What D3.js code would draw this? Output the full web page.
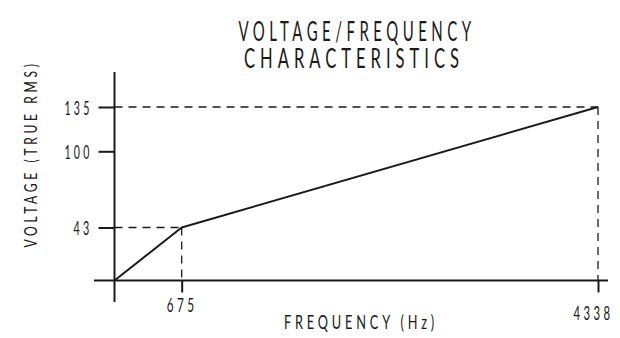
<!DOCTYPE html>
<html><head><meta charset="utf-8">
<script src="https://cdn.jsdelivr.net/npm/d3@7"></script>
<style>body{margin:0;background:#fff}svg{display:block}</style>
</head><body>
<svg id="c" width="620" height="338"></svg>
<script>
// ---- data ----
const titleLines = ["VOLTAGE/FREQUENCY", "CHARACTERISTICS"];
const xLabel = "FREQUENCY (Hz)";
const yLabel = "VOLTAGE (TRUE RMS)";
const frequency = [0, 675, 4338];
const voltage = [0, 43, 135];
const xTickValues = [675, 4338];
const yTickValues = [43, 100, 135];
const guidePoints = [[675, 43], [4338, 135]];

// ---- layout ----
const svg = d3.select("#c");
const FONT = "Lato, 'Liberation Sans Narrow', 'DejaVu Sans', sans-serif";
const INK = "#1a1a1a";
const x = d3.scaleLinear().domain(frequency).range([114.5, 181.7, 598]);
const y = d3.scaleLinear().domain([0, 43, 100, 135]).range([280.5, 227.5, 151.3, 107]);

function sketchText(sel, size, len, spacing) {
  sel.attr("font-family", FONT).attr("font-size", size).attr("font-weight", 400)
     .attr("fill", INK).style("letter-spacing", (size * (spacing == null ? 0.3 : spacing)) + "px")
     .attr("textLength", len).attr("lengthAdjust", "spacingAndGlyphs");
  return sel;
}

// title
const titleY = [40.5, 67.5];
const titleX = [357, 354];
const titleLen = [237, 220];
titleLines.forEach((t, i) => {
  sketchText(svg.append("text").attr("x", titleX[i]).attr("y", titleY[i])
    .attr("text-anchor", "middle").text(t), 26, titleLen[i]);
});

// dashed guides
const guides = svg.append("g").attr("stroke", INK).attr("stroke-width", 1.3)
  .attr("stroke-dasharray", "8,6").attr("fill", "none");
guidePoints.forEach(([f, v]) => {
  guides.append("line").attr("x1", x(0)).attr("x2", x(f)).attr("y1", y(v)).attr("y2", y(v));
  guides.append("line").attr("x1", x(f)).attr("x2", x(f)).attr("y1", y(v)).attr("y2", y(0));
});

// axes lines
svg.append("line").attr("x1", 94).attr("x2", 608).attr("y1", y(0)).attr("y2", y(0))
  .attr("stroke", INK).attr("stroke-width", 2);
svg.append("line").attr("x1", x(0)).attr("x2", x(0)).attr("y1", 72).attr("y2", 302)
  .attr("stroke", INK).attr("stroke-width", 2);

// y axis ticks
const yAxis = svg.append("g").attr("transform", `translate(${x(0)},0)`)
  .call(d3.axisLeft(y).tickValues(yTickValues).tickFormat(d3.format("d"))
    .tickSize(16).tickSizeOuter(0).tickPadding(6));
yAxis.select(".domain").remove();
yAxis.selectAll(".tick line").attr("stroke", INK).attr("stroke-width", 2);
const yLen = {43: 19, 100: 28, 135: 28};
yAxis.selectAll(".tick text").each(function(d) {
  sketchText(d3.select(this), 20, yLen[d]).attr("dy", "0.36em");
});

// x axis ticks
const xAxis = svg.append("g").attr("transform", `translate(0,${y(0)})`)
  .call(d3.axisBottom(x).tickValues(xTickValues).tickFormat(d3.format("d"))
    .tickSize(12).tickSizeOuter(0).tickPadding(4));
xAxis.select(".domain").remove();
xAxis.selectAll(".tick line").attr("stroke", INK).attr("stroke-width", 2);
const xLen = {675: 31, 4338: 40};
const xShift = {675: [0, 31.5], 4338: [-5, 39.5]};
xAxis.selectAll(".tick text").each(function(d) {
  sketchText(d3.select(this), 20, xLen[d])
    .attr("x", xShift[d][0]).attr("y", xShift[d][1]).attr("dy", 0);
});

// axis labels
sketchText(svg.append("text").attr("x", 361).attr("y", 328.5).attr("text-anchor", "middle")
  .text(xLabel), 18.5, 154);
sketchText(svg.append("text").attr("transform", "translate(37,154) rotate(-90)")
  .attr("text-anchor", "middle").text(yLabel), 16.5, 187);

// data line
svg.append("path")
  .datum(frequency.map((f, i) => [f, voltage[i]]))
  .attr("fill", "none").attr("stroke", INK).attr("stroke-width", 2).attr("stroke-linejoin", "round")
  .attr("d", d3.line().x(d => x(d[0])).y(d => y(d[1])));
</script>
</body></html>
